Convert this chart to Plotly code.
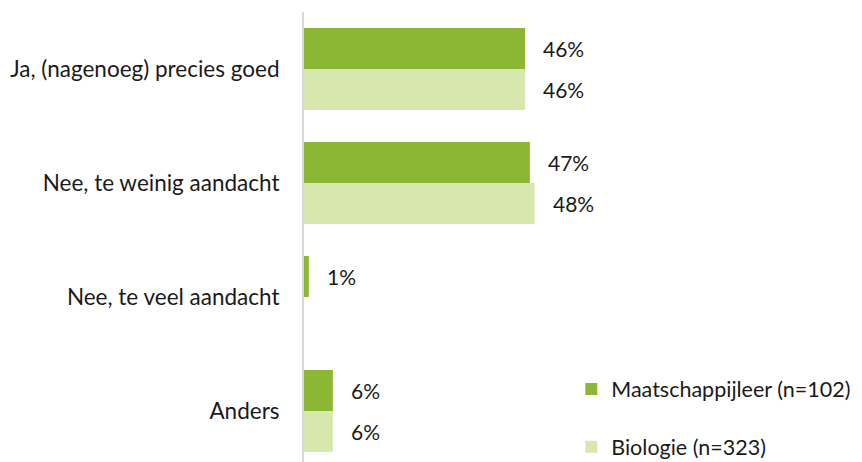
"""Horizontal grouped bars: Maatschappijleer vs Biologie."""

import plotly.graph_objects as go

CATEGORIES = [
    "Ja, (nagenoeg) precies goed",
    "Nee, te weinig aandacht",
    "Nee, te veel aandacht",
    "Anders",
]
MAATSCHAPPIJLEER = [46, 47, 1, 6]
BIOLOGIE = [46, 48, 0, 6]
SERIES_NAMES = ["Maatschappijleer (n=102)", "Biologie (n=323)"]

COLORS = {"dark": "#8BB734", "light": "#D6E8AD", "axis": "#D9D9D9", "text": "#1a1a1a"}
FONT = "Lato, 'Open Sans', sans-serif"

fig = go.Figure()
for name, values, color in [
    (SERIES_NAMES[0], MAATSCHAPPIJLEER, COLORS["dark"]),
    (SERIES_NAMES[1], BIOLOGIE, COLORS["light"]),
]:
    fig.add_trace(go.Bar(
        y=CATEGORIES,
        x=values,
        name=name,
        orientation="h",
        marker=dict(color=color, line=dict(width=0)),
        legendgroup=name,
    ))

# value labels, placed just right of each bar
annotations = []
for offset, values in [(-0.18, MAATSCHAPPIJLEER), (0.18, BIOLOGIE)]:
    for i, v in enumerate(values):
        if v == 0:
            continue
        annotations.append(dict(
            x=v, y=i + offset, xref="x", yref="y",
            text=f"{v}%", showarrow=False,
            xanchor="left", yanchor="middle", xshift=16,
            font=dict(family=FONT, size=21, color=COLORS["text"]),
        ))

fig.update_layout(
    barmode="group",
    bargap=0.28,
    bargroupgap=0,
    annotations=annotations,
    width=862,
    height=462,
    margin=dict(l=304, r=0, t=12, b=0, autoexpand=False),
    paper_bgcolor="white",
    plot_bgcolor="white",
    font=dict(family=FONT, size=20, color=COLORS["text"]),
    xaxis=dict(
        range=[0, 116.1],
        showgrid=False,
        showticklabels=False,
        zeroline=False,
        showline=False,
    ),
    yaxis=dict(
        range=[3.447, -0.5],
        showgrid=False,
        showline=True,
        linecolor=COLORS["axis"],
        linewidth=2,
        ticks="",
        ticklabelstandoff=18,
        tickfont=dict(family=FONT, size=22.5, color=COLORS["text"]),
    ),
    legend=dict(
        x=0.479, y=-0.012, xanchor="left", yanchor="bottom",
        font=dict(family=FONT, size=21.5, color=COLORS["text"]),
        tracegroupgap=27,
        bgcolor="rgba(0,0,0,0)",
    ),
    showlegend=True,
)

fig.write_html(
    "out.html",
    config={"displayModeBar": False},
    post_script="document.body.style.margin='0';",
)
